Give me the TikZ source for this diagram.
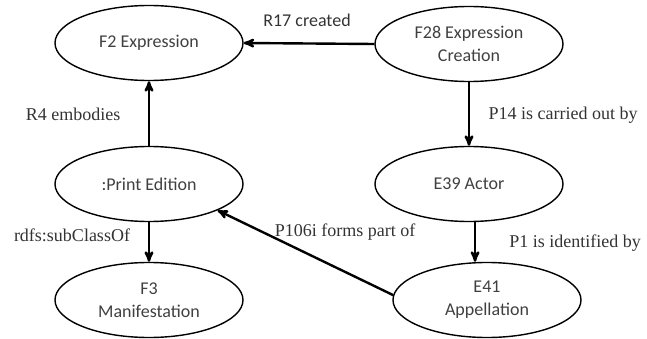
\documentclass[tikz,border=0pt]{standalone}
\usepackage{fontspec}
\setmainfont{Liberation Serif}
\newfontfamily\calfont{Carlito}
\usepackage{tikz}
\usetikzlibrary{arrows}
\usetikzlibrary{shapes.geometric}
\tikzset{
    cls/.style = {ellipse, draw=black, line width=1.4pt, minimum width=188pt, minimum height=75pt, inner sep=0pt, align=center, text=black!75, font=\calfont\fontsize{18}{23}\selectfont},
    rel/.style = {->, >=stealth', line width=2.4pt},
    lbl/.style = {inner sep=0pt, text=black!80, font=\fontsize{18}{22}\selectfont},
    slbl/.style = {lbl, font=\calfont\fontsize{18}{22}\selectfont}
}

\begin{document}
\begin{tikzpicture}[x=1pt, y=-1pt]
    \useasboundingbox (0,0) rectangle (647,339);

    \node [cls] (f2)  at (149,43)  {F2 Expression};
    \node [cls] (f28) at (469,44)  {F28 Expression\\Creation};
    \node [cls] (pe)  at (149,184) {:Print Edition};
    \node [cls] (e39) at (469,184) {E39 Actor};
    \node [cls] (f3)  at (149,300) {F3\\Manifestation};
    \node [cls] (e41) at (487,300) {E41\\Appellation};

    \node [slbl] (r17)  at (307,20)  {R17 created};
    \node [lbl]  (r4)   at (73,114)  {R4 embodies};
    \node [lbl]  (p14)  at (563,115) {P14 is carried out by};
    \node [lbl]  (sub)  at (72,235)  {rdfs:subClassOf};
    \node [lbl]  (p106) at (345,232) {P106i forms part of};
    \node [lbl]  (p1)   at (575,243) {P1 is identified by};

    \draw [rel] (f28.west) -- (f2.east);
    \draw [rel] (pe.north) -- (f2.south);
    \draw [rel] (f28.south) -- (e39.north);
    \draw [rel] (pe.south) -- (f3.north);
    \draw [rel] (e39.-81) -- (e39.-81 |- e41.north);
    \draw [rel] (e41.177) -- (pe.-21);
\end{tikzpicture}
\end{document}
